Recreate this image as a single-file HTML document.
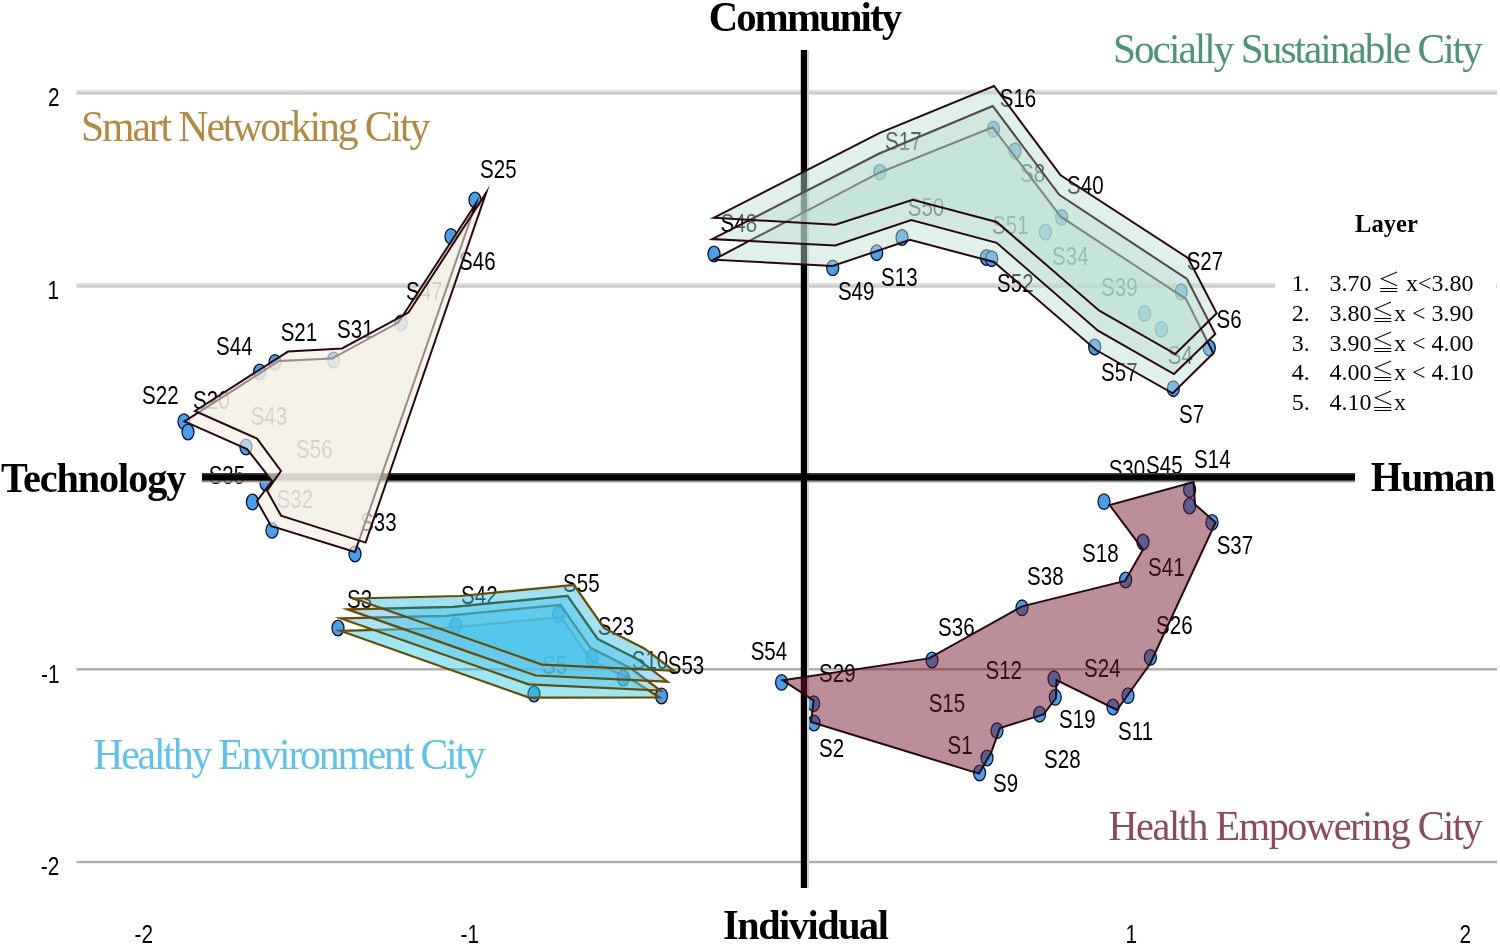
<!DOCTYPE html>
<html lang="en">
<head>
<meta charset="utf-8">
<title>Perceptual map of smart healthy city types</title>
<style>
html,body{margin:0;padding:0;background:#fff;}
body{width:1500px;height:946px;overflow:hidden;}
svg{display:block;}
.lab{font-family:"Liberation Sans",sans-serif;font-size:25.3px;fill:#000;}
.tick{font-family:"Liberation Sans",sans-serif;font-size:26px;fill:#000;}
.ttl{font-family:"Liberation Serif",serif;font-weight:bold;fill:#000;}
.quad{font-family:"Liberation Serif",serif;}
.leg{font-family:"Liberation Serif","Noto Serif CJK SC",serif;font-size:24px;fill:#000;}
</style>
</head>
<body>
<svg width="1500" height="946" viewBox="0 0 1500 946">
<rect width="1500" height="946" fill="#fff"/>

<g id="grid">
<rect x="76.5" y="89.9" width="1420.5" height="2.4" fill="#dedede"/>
<rect x="76.5" y="92.1" width="1420.5" height="2.5" fill="#c9c9c9"/>
<rect x="76.5" y="283.0" width="1420.5" height="2.4" fill="#dedede"/>
<rect x="76.5" y="285.2" width="1420.5" height="2.5" fill="#c9c9c9"/>
<rect x="76.5" y="668.1" width="1420.5" height="2.4" fill="#adadad"/>
<rect x="76.5" y="860.8" width="1420.5" height="2.4" fill="#adadad"/>
</g>
<rect x="1275" y="190" width="221" height="240" fill="#fff"/>
<g id="dots" fill="#489fee" stroke="#0a1428" stroke-width="1.3">
<ellipse cx="475" cy="200" rx="6" ry="7.8"/>
<ellipse cx="451" cy="236.4" rx="6" ry="7.8"/>
<ellipse cx="401" cy="323" rx="6" ry="7.8"/>
<ellipse cx="333.6" cy="360" rx="6" ry="7.8"/>
<ellipse cx="275" cy="362.4" rx="6" ry="7.8"/>
<ellipse cx="259.6" cy="372" rx="6" ry="7.8"/>
<ellipse cx="184" cy="421.6" rx="6" ry="7.8"/>
<ellipse cx="188" cy="432" rx="6" ry="7.8"/>
<ellipse cx="246" cy="447" rx="6" ry="7.8"/>
<ellipse cx="266" cy="483" rx="6" ry="7.8"/>
<ellipse cx="252.4" cy="502" rx="6" ry="7.8"/>
<ellipse cx="272" cy="530.4" rx="6" ry="7.8"/>
<ellipse cx="355" cy="554" rx="6" ry="7.8"/>
<ellipse cx="338" cy="628" rx="6" ry="7.8"/>
<ellipse cx="455.6" cy="625.6" rx="6" ry="7.8"/>
<ellipse cx="558.4" cy="614.5" rx="6" ry="7.8"/>
<ellipse cx="592" cy="657.6" rx="6" ry="7.8"/>
<ellipse cx="623.3" cy="678" rx="6" ry="7.8"/>
<ellipse cx="661.5" cy="696" rx="6" ry="7.8"/>
<ellipse cx="534" cy="694" rx="6" ry="7.8"/>
<ellipse cx="714" cy="254" rx="6" ry="7.8"/>
<ellipse cx="832.7" cy="267.9" rx="6" ry="7.8"/>
<ellipse cx="876.7" cy="252.7" rx="6" ry="7.8"/>
<ellipse cx="902" cy="237.5" rx="6" ry="7.8"/>
<ellipse cx="986.5" cy="257.5" rx="6" ry="7.8"/>
<ellipse cx="991.7" cy="258.7" rx="6" ry="7.8"/>
<ellipse cx="879.9" cy="172.1" rx="6" ry="7.8"/>
<ellipse cx="993.5" cy="129.2" rx="6" ry="7.8"/>
<ellipse cx="1015" cy="151" rx="6" ry="7.8"/>
<ellipse cx="1061.6" cy="217.4" rx="6" ry="7.8"/>
<ellipse cx="1045.4" cy="232" rx="6" ry="7.8"/>
<ellipse cx="1181.2" cy="291.8" rx="6" ry="7.8"/>
<ellipse cx="1144.6" cy="313.4" rx="6" ry="7.8"/>
<ellipse cx="1161.4" cy="329.4" rx="6" ry="7.8"/>
<ellipse cx="1094.7" cy="347" rx="6" ry="7.8"/>
<ellipse cx="1209.3" cy="348" rx="6" ry="7.8"/>
<ellipse cx="1173.3" cy="388.7" rx="6" ry="7.8"/>
<ellipse cx="1104" cy="501.6" rx="6" ry="7.8"/>
<ellipse cx="1189.6" cy="489.5" rx="6" ry="7.8"/>
<ellipse cx="1189.6" cy="506" rx="6" ry="7.8"/>
<ellipse cx="1212" cy="522.4" rx="6" ry="7.8"/>
<ellipse cx="1143" cy="542" rx="6" ry="7.8"/>
<ellipse cx="1125.6" cy="580" rx="6" ry="7.8"/>
<ellipse cx="1022" cy="607.8" rx="6" ry="7.8"/>
<ellipse cx="1150.4" cy="657.4" rx="6" ry="7.8"/>
<ellipse cx="781.6" cy="682.4" rx="6" ry="7.8"/>
<ellipse cx="932" cy="660" rx="6" ry="7.8"/>
<ellipse cx="813.6" cy="703.6" rx="6" ry="7.8"/>
<ellipse cx="814" cy="723" rx="6" ry="7.8"/>
<ellipse cx="997" cy="730.6" rx="6" ry="7.8"/>
<ellipse cx="987" cy="758" rx="6" ry="7.8"/>
<ellipse cx="979.6" cy="773" rx="6" ry="7.8"/>
<ellipse cx="1039.6" cy="714.2" rx="6" ry="7.8"/>
<ellipse cx="1054" cy="678.8" rx="6" ry="7.8"/>
<ellipse cx="1055.3" cy="697.3" rx="6" ry="7.8"/>
<ellipse cx="1113" cy="707" rx="6" ry="7.8"/>
<ellipse cx="1128" cy="695.6" rx="6" ry="7.8"/>
</g>
<g id="labels" class="lab">
<text transform="translate(480.1,178) scale(0.81,1)">S25</text>
<text transform="translate(459.1,270) scale(0.81,1)">S46</text>
<text transform="translate(406.1,300.4) scale(0.81,1)">S47</text>
<text transform="translate(337.1,338) scale(0.81,1)">S31</text>
<text transform="translate(280.7,340.6) scale(0.81,1)">S21</text>
<text transform="translate(216.1,355) scale(0.81,1)">S44</text>
<text transform="translate(142.1,404.4) scale(0.81,1)">S22</text>
<text transform="translate(193.1,409) scale(0.81,1)">S20</text>
<text transform="translate(250.7,425) scale(0.81,1)">S43</text>
<text transform="translate(296.1,458) scale(0.81,1)">S56</text>
<text transform="translate(208.7,483.8) scale(0.81,1)">S35</text>
<text transform="translate(276.7,507.6) scale(0.81,1)">S32</text>
<text transform="translate(360.1,531) scale(0.81,1)">S33</text>
<text transform="translate(347.1,607.8) scale(0.81,1)">S3</text>
<text transform="translate(461.1,603.6) scale(0.81,1)">S42</text>
<text transform="translate(563.1,592) scale(0.81,1)">S55</text>
<text transform="translate(597.8,635) scale(0.81,1)">S23</text>
<text transform="translate(631.8,669.3) scale(0.81,1)">S10</text>
<text transform="translate(667.8,674) scale(0.81,1)">S53</text>
<text transform="translate(542.1,674.4) scale(0.81,1)">S5</text>
<text transform="translate(999.8,107.3) scale(0.81,1)">S16</text>
<text transform="translate(885.1,150) scale(0.81,1)">S17</text>
<text transform="translate(720.6,231.9) scale(0.81,1)">S48</text>
<text transform="translate(907.8,215.6) scale(0.81,1)">S50</text>
<text transform="translate(992.1,234.4) scale(0.81,1)">S51</text>
<text transform="translate(1020.1,182) scale(0.81,1)">S8</text>
<text transform="translate(1052.1,265) scale(0.81,1)">S34</text>
<text transform="translate(881.1,286) scale(0.81,1)">S13</text>
<text transform="translate(837.9,299.9) scale(0.81,1)">S49</text>
<text transform="translate(997.1,291.6) scale(0.81,1)">S52</text>
<text transform="translate(1067.1,194.4) scale(0.81,1)">S40</text>
<text transform="translate(1186.7,270) scale(0.81,1)">S27</text>
<text transform="translate(1216.6,328.4) scale(0.81,1)">S6</text>
<text transform="translate(1101.1,296) scale(0.81,1)">S39</text>
<text transform="translate(1167.8,364) scale(0.81,1)">S4</text>
<text transform="translate(1101.1,380.7) scale(0.81,1)">S57</text>
<text transform="translate(1179.1,422.7) scale(0.81,1)">S7</text>
<text transform="translate(1194.1,467.6) scale(0.81,1)">S14</text>
<text transform="translate(1146.1,474.4) scale(0.81,1)">S45</text>
<text transform="translate(1108.7,478.4) scale(0.81,1)">S30</text>
<text transform="translate(1216.7,554.4) scale(0.81,1)">S37</text>
<text transform="translate(1082.1,561.6) scale(0.81,1)">S18</text>
<text transform="translate(1148.1,576) scale(0.81,1)">S41</text>
<text transform="translate(1027.1,585) scale(0.81,1)">S38</text>
<text transform="translate(1156.1,634.4) scale(0.81,1)">S26</text>
<text transform="translate(750.7,660) scale(0.81,1)">S54</text>
<text transform="translate(938.1,636.4) scale(0.81,1)">S36</text>
<text transform="translate(819.1,681.6) scale(0.81,1)">S29</text>
<text transform="translate(985.5,679.4) scale(0.81,1)">S12</text>
<text transform="translate(928.7,712) scale(0.81,1)">S15</text>
<text transform="translate(819.1,757) scale(0.81,1)">S2</text>
<text transform="translate(947.5,754.4) scale(0.81,1)">S1</text>
<text transform="translate(993.1,792) scale(0.81,1)">S9</text>
<text transform="translate(1084.1,677) scale(0.81,1)">S24</text>
<text transform="translate(1059.1,728) scale(0.81,1)">S19</text>
<text transform="translate(1118.1,740.4) scale(0.81,1)">S11</text>
<text transform="translate(1044.1,768.4) scale(0.81,1)">S28</text>
</g>
<g id="axes">
<rect x="807" y="50" width="2" height="838" fill="#d2d2d2"/>
<rect x="202" y="481.4" width="1153" height="1.3" fill="#c4c4c4"/>
<rect x="202" y="480.2" width="1153" height="1.3" fill="#5c5c5c"/>
<rect x="202" y="473" width="1153" height="2" fill="#3c3c3c"/>
<rect x="202" y="474.6" width="1153" height="5.8" fill="#000"/>
<rect x="800.8" y="50" width="6.2" height="838" fill="#000"/>
</g>
<g id="tan" fill="#f2efe5" fill-opacity="0.65" stroke="#2a0810" stroke-width="2" stroke-linejoin="miter" stroke-miterlimit="20">
<polygon points="184.5,421.4 279.0,361.0 332.0,358.6 398.3,322.6 476.0,203.5 355.0,552.0 271.0,526.0 257.0,501.0 272.0,481.0 247.0,449.0"/>
<polygon points="195.0,411.0 288.0,351.6 342.0,348.4 408.5,312.6 486.2,192.7 365.6,542.6 281.0,515.6 267.0,490.6 281.0,471.0 257.0,438.6"/>
</g>
<g id="green" fill="#bae0d3" fill-opacity="0.45" stroke="#2a0810" stroke-width="2" stroke-linejoin="miter" stroke-miterlimit="20">
<polygon points="713.6,259.7 879.3,172.7 992.7,127.3 1060.7,216.7 1186.0,299.0 1213.3,353.3 1172.7,393.3 1096.0,350.0 994.0,262.0 910.0,239.9 832.7,266.0"/>
<polygon points="712.2,239.1 879.3,153.5 992.7,106.0 1059.3,194.8 1187.0,279.0 1215.3,334.0 1174.0,374.0 1098.0,330.7 996.7,242.8 911.3,220.1 835.3,245.5"/>
<polygon points="713.6,217.8 879.3,133.2 994.0,86.0 1060.7,175.3 1188.0,258.0 1216.7,313.3 1175.3,354.0 1099.3,310.7 996.7,222.0 912.7,199.9 835.3,224.7"/>
</g>
<g id="blue" stroke="#6c4a00" stroke-width="2.2" stroke-linejoin="miter" stroke-miterlimit="20">
<polygon points="340.2,630.8 447.0,628.0 561.0,617.2 591.3,660.7 631.6,679.5 659.5,697.5 529.0,697.6" fill="#25cde8" fill-opacity="0.46"/>
<polygon points="340.4,618.3 446.5,615.8 560.5,604.8 590.5,647.8 631.2,668.5 660.4,690.6 528.5,684.4" fill="#54caed" fill-opacity="0.5"/>
<polygon points="347.5,609.4 453.6,606.9 567.6,595.9 597.6,638.9 638.3,659.6 667.5,681.7 535.6,675.5" fill="#51bded" fill-opacity="0.5"/>
<polygon points="353.9,598.5 460.0,596.0 574.0,585.0 604.0,628.0 644.7,648.7 673.9,670.8 542.0,664.6" fill="#41c6ea" fill-opacity="0.5"/>
</g>
<defs>
<clipPath id="cb2"><polygon points="340.4,618.3 446.5,615.8 560.5,604.8 590.5,647.8 631.2,668.5 660.4,690.6 528.5,684.4"/></clipPath>
<clipPath id="cb3"><polygon points="347.5,609.4 453.6,606.9 567.6,595.9 597.6,638.9 638.3,659.6 667.5,681.7 535.6,675.5"/></clipPath>
<clipPath id="cb4"><polygon points="353.9,598.5 460.0,596.0 574.0,585.0 604.0,628.0 644.7,648.7 673.9,670.8 542.0,664.6"/></clipPath>
<clipPath id="cg2"><polygon points="712.2,239.1 879.3,153.5 992.7,106.0 1059.3,194.8 1187.0,279.0 1215.3,334.0 1174.0,374.0 1098.0,330.7 996.7,242.8 911.3,220.1 835.3,245.5"/></clipPath>
<clipPath id="cg3"><polygon points="713.6,217.8 879.3,133.2 994.0,86.0 1060.7,175.3 1188.0,258.0 1216.7,313.3 1175.3,354.0 1099.3,310.7 996.7,222.0 912.7,199.9 835.3,224.7"/></clipPath>
<clipPath id="ct2"><polygon points="195.0,411.0 288.0,351.6 342.0,348.4 408.5,312.6 486.2,192.7 365.6,542.6 281.0,515.6 267.0,490.6 281.0,471.0 257.0,438.6"/></clipPath>
</defs>
<g id="overlays" fill="none" stroke-linejoin="miter" stroke-miterlimit="20">
<polygon points="347.5,609.4 453.6,606.9 567.6,595.9 597.6,638.9 638.3,659.6 667.5,681.7 535.6,675.5" stroke="#14502a" stroke-opacity="0.5" stroke-width="2.2" clip-path="url(#cb4)"/>
<polygon points="340.4,618.3 446.5,615.8 560.5,604.8 590.5,647.8 631.2,668.5 660.4,690.6 528.5,684.4" stroke="#14502a" stroke-opacity="0.16" stroke-width="2.2" clip-path="url(#cb3)"/>
<polygon points="712.2,239.1 879.3,153.5 992.7,106.0 1059.3,194.8 1187.0,279.0 1215.3,334.0 1174.0,374.0 1098.0,330.7 996.7,242.8 911.3,220.1 835.3,245.5" stroke="#2a0810" stroke-opacity="0.32" stroke-width="2" clip-path="url(#cg3)"/>
<polygon points="713.6,259.7 879.3,172.7 992.7,127.3 1060.7,216.7 1186.0,299.0 1213.3,353.3 1172.7,393.3 1096.0,350.0 994.0,262.0 910.0,239.9 832.7,266.0" stroke="#2a0810" stroke-opacity="0.15" stroke-width="2" clip-path="url(#cg2)"/>
<polygon points="184.5,421.4 279.0,361.0 332.0,358.6 398.3,322.6 476.0,203.5 355.0,552.0 271.0,526.0 257.0,501.0 272.0,481.0 247.0,449.0" stroke="#2a0810" stroke-opacity="0.12" stroke-width="2" clip-path="url(#ct2)"/>
</g>
<polygon id="maroon" points="782.8,680.3 929.0,658.4 1022.0,606.4 1125.0,581.0 1143.0,549.6 1109.6,505.0 1193.6,482.0 1195.0,504.4 1215.6,522.4 1150.0,664.0 1117.0,710.0 1056.5,680.0 1056.0,698.0 1043.5,714.5 1000.0,728.0 991.0,753.0 979.0,773.6 811.0,722.0 813.6,700.5" fill="#6f142a" fill-opacity="0.48" stroke="#2a0810" stroke-width="2" stroke-miterlimit="20"/>
<g id="ticks" class="tick">
<text transform="translate(59.5,106.2) scale(0.8,1)" text-anchor="end">2</text>
<text transform="translate(59,298.5) scale(0.8,1)" text-anchor="end">1</text>
<text transform="translate(59.5,683) scale(0.8,1)" text-anchor="end">-1</text>
<text transform="translate(59.3,875.3) scale(0.8,1)" text-anchor="end">-2</text>
<text transform="translate(153,943.3) scale(0.8,1)" text-anchor="end">-2</text>
<text transform="translate(479,943.3) scale(0.8,1)" text-anchor="end">-1</text>
<text transform="translate(1137,943.3) scale(0.8,1)" text-anchor="end">1</text>
<text transform="translate(1471,943.3) scale(0.8,1)" text-anchor="end">2</text>
</g>
<text class="ttl" transform="translate(708.8,30.7) scale(0.97,1)" font-size="42" textLength="199.2" lengthAdjust="spacing">Community</text>
<text class="ttl" transform="translate(723,938.7) scale(0.97,1)" font-size="41.5" textLength="171.1" lengthAdjust="spacing">Individual</text>
<text class="ttl" transform="translate(1,491.5) scale(0.97,1)" font-size="41.5" textLength="191.0" lengthAdjust="spacing">Technology</text>
<text class="ttl" transform="translate(1370.8,491.2) scale(0.97,1)" font-size="41.5" textLength="128.7" lengthAdjust="spacing">Human</text>
<text class="quad" transform="translate(81,141) scale(0.96,1)" font-size="43.5" textLength="363.9" lengthAdjust="spacing" fill="#b3883f">Smart Networking City</text>
<text class="quad" transform="translate(1113,62.7) scale(0.96,1)" font-size="43" textLength="385.2" lengthAdjust="spacing" fill="#4b9672">Socially Sustainable City</text>
<text class="quad" transform="translate(93.3,769) scale(0.96,1)" font-size="43.5" textLength="408.8" lengthAdjust="spacing" fill="#5bc3ef">Healthy Environment City</text>
<text class="quad" transform="translate(1108.4,840.1) scale(0.96,1)" font-size="42" textLength="389.9" lengthAdjust="spacing" fill="#8e4a5a">Health Empowering City</text>
<text class="ttl" x="1355" y="232.4" font-size="25" textLength="62.8" lengthAdjust="spacingAndGlyphs">Layer</text>
<g id="legend" class="leg">
<text x="1291.8" y="290.8">1.</text><text x="1329.5" y="290.8">3.70 <tspan font-family="'Liberation Serif','Noto Serif CJK SC',serif" font-size="22.5">≦</tspan> x&lt;3.80</text>
<text x="1291.8" y="320.5">2.</text><text x="1329.5" y="320.5">3.80<tspan font-family="'Liberation Serif','Noto Serif CJK SC',serif" font-size="22.5">≦</tspan>x &lt; 3.90</text>
<text x="1291.8" y="350.5">3.</text><text x="1329.5" y="350.5">3.90<tspan font-family="'Liberation Serif','Noto Serif CJK SC',serif" font-size="22.5">≦</tspan>x &lt; 4.00</text>
<text x="1291.8" y="380.2">4.</text><text x="1329.5" y="380.2">4.00<tspan font-family="'Liberation Serif','Noto Serif CJK SC',serif" font-size="22.5">≦</tspan>x &lt; 4.10</text>
<text x="1291.8" y="410.2">5.</text><text x="1329.5" y="410.2">4.10<tspan font-family="'Liberation Serif','Noto Serif CJK SC',serif" font-size="22.5">≦</tspan>x</text>
</g>
</svg>
</body>
</html>
